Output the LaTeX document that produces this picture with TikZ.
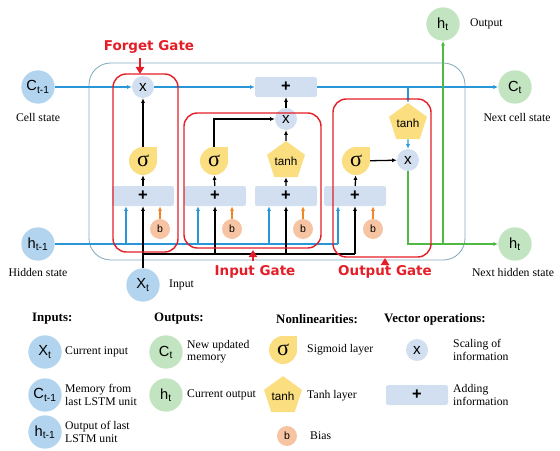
\documentclass[tikz,border=0pt]{standalone}
\usepackage{fontspec}
\setmainfont{Liberation Serif}
\setsansfont{Liberation Sans}
\newfontfamily\gatefont{DejaVu Sans}
\usetikzlibrary{arrows.meta,shapes.geometric,backgrounds,calc}

\definecolor{cellblue}{RGB}{178,212,238}
\definecolor{outgreen}{RGB}{194,228,192}
\definecolor{opblue}{RGB}{210,223,240}
\definecolor{actyellow}{RGB}{250,222,128}
\definecolor{biasorange}{RGB}{246,196,162}
\definecolor{gatered}{RGB}{228,30,40}
\definecolor{flowblue}{RGB}{40,150,215}
\definecolor{flowgreen}{RGB}{80,185,70}
\definecolor{biasarrow}{RGB}{240,135,40}
\definecolor{framegray}{RGB}{130,170,190}

\tikzset{
  statenode/.style={circle, fill=cellblue, minimum size=1cm, inner sep=0pt,
                    font=\sffamily\fontsize{12.5}{12.5}\selectfont},
  outnode/.style={statenode, fill=outgreen},
  mulnode/.style={circle, fill=opblue, minimum size=0.66cm, inner sep=0pt,
                  font=\sffamily\fontsize{13}{13}\selectfont},
  addnode/.style={rectangle, rounded corners=2pt, fill=opblue, minimum width=1.86cm,
                  minimum height=0.6cm, inner sep=0pt,
                  font=\sffamily\bfseries\fontsize{14}{14}\selectfont},
  signode/.style={circle, fill=actyellow, minimum size=0.84cm, inner sep=0pt,
                  font=\fontsize{19}{19}\selectfont},
  tanhnode/.style={regular polygon, regular polygon sides=5, fill=actyellow,
                   minimum size=0.9cm, inner sep=0pt, font=\sffamily\fontsize{10}{10}\selectfont},
  biasnode/.style={circle, fill=biasorange, minimum size=0.6cm, inner sep=0pt,
                   font=\sffamily\fontsize{9}{9}\selectfont},
  gatebox/.style={draw=gatered, line width=1.2pt, rounded corners=0.4cm},
  gatelabel/.style={text=gatered, font=\gatefont\bfseries\fontsize{11.5}{12}\selectfont},
  gatearr/.style={-{Triangle[length=6pt,width=7pt]}, draw=gatered, line width=1.5pt},
  bluearr/.style={-{Latex[length=4pt,width=3.5pt]}, draw=flowblue, line width=1.1pt},
  blackarr/.style={-{Latex[length=4pt,width=3.5pt]}, line width=1.1pt},
  greenarr/.style={-{Latex[length=4pt,width=3.5pt]}, draw=flowgreen, line width=1.1pt},
  biasarr/.style={-{Latex[length=4pt,width=3.5pt]}, draw=biasarrow, line width=1.1pt},
  caption/.style={font=\fontsize{10}{11}\selectfont},
  legtext/.style={anchor=west, align=left, inner sep=0pt, font=\fontsize{10}{10.5}\selectfont},
  leghead/.style={anchor=west, inner sep=0pt, font=\bfseries\fontsize{11}{12}\selectfont},
}

\begin{document}
\begin{tikzpicture}[x=0.03cm,y=-0.03cm]
  \useasboundingbox (0,0) rectangle (560,451);

  % cell frame
  \draw[framegray, line width=0.7pt, rounded corners=0.65cm] (89,63) rectangle (465,260);

  % states in and out
  \node[statenode] (cprev) at (38,87) {C\textsubscript{t-1}};
  \node[statenode] (hprev) at (38,244) {h\textsubscript{t-1}};
  \node[statenode] (xt) at (143,285) {X\textsubscript{t}};
  \node[outnode] (cnext) at (515,87) {C\textsubscript{t}};
  \node[outnode] (hnext) at (515,244) {h\textsubscript{t}};
  \node[outnode] (hout) at (443,24) {h\textsubscript{t}};

  \node[caption] (cprevtxt) at (38,117) {Cell state};
  \node[caption] (hprevtxt) at (38,272) {Hidden state};
  \node[caption, anchor=west] (xttxt) at (165,285) {Input};
  \node[caption] (cnexttxt) at (517,117) {Next cell state};
  \node[caption] (hnexttxt) at (513,272) {Next hidden state};
  \node[caption, anchor=west] (houttxt) at (466,24) {Output};

  % forget gate
  \node[mulnode] (fx) at (143,87) {x};
  \node[signode] (fs) at (143,161) {σ};
  \node[addnode] (fp) at (143,196) {+};
  \node[biasnode] (fb) at (160,229) {b};

  % input gate
  \node[signode] (is) at (214,161) {σ};
  \node[addnode] (ip) at (215,196) {+};
  \node[biasnode] (ib) at (232,229) {b};
  \node[tanhnode] (ig) at (286,161) {tanh};
  \node[addnode] (gp) at (286,196) {+};
  \node[biasnode] (gb) at (303,229) {b};
  \node[mulnode] (ix) at (286,119) {x};
  \node[addnode] (addc) at (286,87) {+};

  % output gate
  \node[signode] (os) at (356,161) {σ};
  \node[addnode] (op) at (355,196) {+};
  \node[biasnode] (ob) at (373,229) {b};
  \node[tanhnode] (ct) at (408,123) {tanh};
  \node[mulnode] (ox) at (408,160) {x};

  % legend
  \node[leghead] (hdin) at (32,319) {Inputs:};
  \node[leghead] (hdout) at (154,319) {Outputs:};
  \node[leghead] (hdnl) at (276,319) {Nonlinearities:};
  \node[leghead] (hdvec) at (384,319) {Vector operations:};

  \node[statenode] (lx) at (45,352) {X\textsubscript{t}};
  \node[legtext] (lxtxt) at (65,352) {Current input};
  \node[statenode] (lc) at (45,395) {C\textsubscript{t-1}};
  \node[legtext] (lctxt) at (65,395) {Memory from\\last LSTM unit};
  \node[statenode] (lh) at (45,432) {h\textsubscript{t-1}};
  \node[legtext] (lhtxt) at (65,432) {Output of last\\LSTM unit};
  \node[outnode] (lct) at (166,352) {C\textsubscript{t}};
  \node[legtext] (lcttxt) at (187,352) {New updated\\memory};
  \node[outnode] (lht) at (166,395) {h\textsubscript{t}};
  \node[legtext] (lhttxt) at (187,395) {Current output};
  \node[signode] (ls) at (283,350) {σ};
  \node[legtext] (lstxt) at (307,350) {Sigmoid layer};
  \node[tanhnode] (lt) at (283,396) {tanh};
  \node[legtext] (lttxt) at (307,396) {Tanh layer};
  \node[biasnode] (lb) at (287,436) {b};
  \node[legtext] (lbtxt) at (310,436) {Bias};
  \node[mulnode] (lm) at (417,350) {x};
  \node[legtext] (lmtxt) at (453,350) {Scaling of\\information};
  \node[addnode] (la) at (417,395) {+};
  \node[legtext] (latxt) at (453,395) {Adding\\information};

  % pointed corner of the sigmoid blobs
  \begin{scope}[on background layer]
    \foreach \s in {fs,is,os,ls}
      \fill[actyellow] (\s.center) rectangle (\s.east |- \s.north);
  \end{scope}

  % cell state line
  \draw[bluearr] (cprev) -- (fx);
  \draw[bluearr] (fx) -- (addc);
  \draw[bluearr] (addc) -- (cnext);
  \draw[bluearr] (addc.east -| ct.north) -- (ct.north);
  \draw[bluearr] (ct.south) -- (ox.north);

  % hidden state feeding the gates, plus biases
  \draw[flowblue, line width=1.1pt] (hprev.east) -- ($(op.south |- hprev)+(-17,0)$);
  \foreach \p/\b in {fp/fb,ip/ib,gp/gb,op/ob} {
    \draw[bluearr] ($(\p.south |- hprev)+(-17,0)$) -- ($(\p.south)+(-17,0)$);
    \draw[biasarr] (\b.north) -- (\b.north |- \p.south);
  }

  % input x_t
  \coordinate (xbus) at (143,254);
  \draw[line width=1.1pt] (xbus) -- (xbus -| op.south);
  \draw[blackarr] (xt.north) -- (fp.south);
  \foreach \p in {ip,gp,op}
    \draw[blackarr] (xbus -| \p.south) -- (\p.south);

  % gate internals
  \draw[blackarr] (fp) -- (fs);
  \draw[blackarr] (fs) -- (fx);
  \draw[blackarr] (ip) -- (is);
  \draw[blackarr] (is.north) |- (ix.west);
  \draw[blackarr] (gp) -- (ig);
  \draw[blackarr] (ig) -- (ix);
  \draw[blackarr] (ix) -- (addc);
  \draw[blackarr] (op) -- (os);
  \draw[blackarr] (os) -- (ox);

  % new hidden state
  \draw[greenarr] (ox.south) |- (hnext.west);
  \draw[greenarr] (hout.south |- hnext.west) -- (hout.south);

  % gate outlines and labels
  \draw[gatebox] (113,74) rectangle (178,252);
  \draw[gatebox] (184,113) rectangle (321,248);
  \draw[gatebox] (333,99) rectangle (431,257);

  \coordinate (fgtop) at (140,74);
  \coordinate (igbot) at (253,250);
  \coordinate (ogbot) at (385,258);
  \node[gatelabel] (fgl) at (149,47) {Forget Gate};
  \node[gatelabel] (igl) at (255,272) {Input Gate};
  \node[gatelabel] (ogl) at (385,272) {Output Gate};
  \draw[gatearr] (fgl.south -| fgtop) -- (fgtop);
  \draw[gatearr] (igl.north -| igbot) -- (igbot);
  \draw[gatearr] (ogl.north -| ogbot) -- (ogbot);
\end{tikzpicture}
\end{document}
